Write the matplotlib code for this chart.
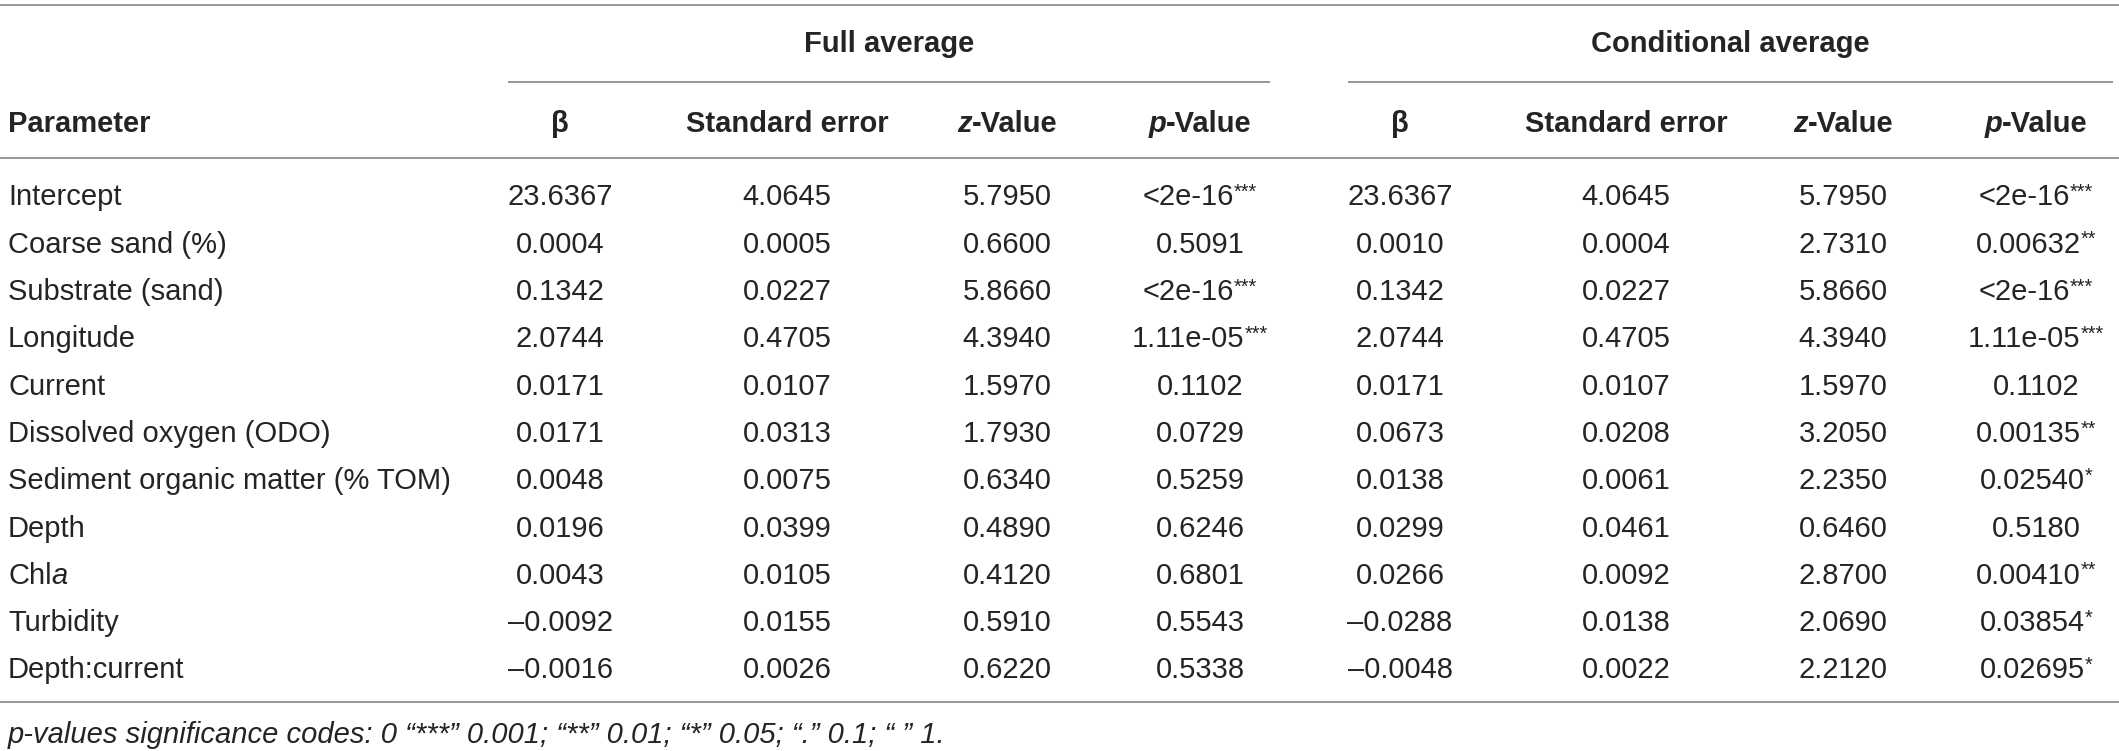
import matplotlib
matplotlib.use("Agg")
import matplotlib.pyplot as plt
from matplotlib.lines import Line2D

# ---------------- data ----------------
parameters = ["Intercept", "Coarse sand (%)", "Substrate (sand)", "Longitude", "Current",
              "Dissolved oxygen (ODO)", "Sediment organic matter (% TOM)", "Depth",
              "Chla", "Turbidity", "Depth:current"]

full_beta = ["23.6367", "0.0004", "0.1342", "2.0744", "0.0171", "0.0171", "0.0048",
             "0.0196", "0.0043", "\u20130.0092", "\u20130.0016"]
full_se = ["4.0645", "0.0005", "0.0227", "0.4705", "0.0107", "0.0313", "0.0075",
           "0.0399", "0.0105", "0.0155", "0.0026"]
full_z = ["5.7950", "0.6600", "5.8660", "4.3940", "1.5970", "1.7930", "0.6340",
          "0.4890", "0.4120", "0.5910", "0.6220"]
full_p = ["<2e-16", "0.5091", "<2e-16", "1.11e-05", "0.1102", "0.0729", "0.5259",
          "0.6246", "0.6801", "0.5543", "0.5338"]
full_sig = ["***", "", "***", "***", "", "", "", "", "", "", ""]

cond_beta = ["23.6367", "0.0010", "0.1342", "2.0744", "0.0171", "0.0673", "0.0138",
             "0.0299", "0.0266", "\u20130.0288", "\u20130.0048"]
cond_se = ["4.0645", "0.0004", "0.0227", "0.4705", "0.0107", "0.0208", "0.0061",
           "0.0461", "0.0092", "0.0138", "0.0022"]
cond_z = ["5.7950", "2.7310", "5.8660", "4.3940", "1.5970", "3.2050", "2.2350",
          "0.6460", "2.8700", "2.0690", "2.2120"]
cond_p = ["<2e-16", "0.00632", "<2e-16", "1.11e-05", "0.1102", "0.00135", "0.02540",
          "0.5180", "0.00410", "0.03854", "0.02695"]
cond_sig = ["***", "**", "***", "***", "", "**", "*", "", "**", "*", "*"]

groups = ["Full average", "Conditional average"]
footnote = "p-values significance codes: 0 \u201c***\u201d 0.001; \u201c**\u201d 0.01; \u201c*\u201d 0.05; \u201c.\u201d 0.1; \u201c \u201d 1."

# ---------------- layout ----------------
W, H = 2119, 751
DPI = 100
FONT = "Liberation Sans"
FS = 21
TXT = "#262324"
LINE = "#8f8f8f"

fig = plt.figure(figsize=(W / DPI, H / DPI), dpi=DPI)
ax = fig.add_axes([0, 0, 1, 1])
ax.set_xlim(0, W)
ax.set_ylim(H, 0)
ax.axis("off")
fig.canvas.draw()
renderer = fig.canvas.get_renderer()

CAP = 0.716 * FS * DPI / 72.0  # cap height in px


def measure(s, **kw):
    t = ax.text(0, 0, s, fontsize=kw.get("size", FS), family=FONT,
                style=kw.get("style", "normal"), weight=kw.get("weight", "normal"))
    bb = t.get_window_extent(renderer)
    t.remove()
    return bb.width


def rich(x, yc, segs, ha="center"):
    """segs: list of (text, opts) ; yc = vertical centre of the cap height"""
    widths = [measure(s, **o) for s, o in segs]
    total = sum(widths)
    if ha == "center":
        x0 = x - total / 2
    elif ha == "left":
        x0 = x
    else:
        x0 = x - total
    base = yc + CAP / 2
    for (s, o), w in zip(segs, widths):
        ax.text(x0, base - o.get("rise", 0), s, fontsize=o.get("size", FS), family=FONT,
                style=o.get("style", "normal"), weight=o.get("weight", "normal"),
                color=TXT, ha="left", va="baseline")
        x0 += w


def hline(x0, x1, y):
    ax.add_line(Line2D([x0, x1], [y, y], color=LINE, lw=1.3, solid_capstyle="butt"))


X_LEFT, X_RIGHT = 7, 2113
param_x = 8
col_x = [560, 787, 1007, 1200, 1400, 1626, 1843, 2036]
group_span = [(508, 1270), (1348, 2113)]
Y_TOP, Y_GROUPLINE, Y_HEADLINE, Y_BOTTOM = 5, 82, 158, 702
Y_GROUP, Y_HEAD, Y_FOOT = 42, 122, 733
Y_ROW0, ROW_H = 195, 47.3

# rules
hline(X_LEFT - 7, X_RIGHT + 6, Y_TOP)
for a, b in group_span:
    hline(a, b, Y_GROUPLINE)
hline(X_LEFT - 7, X_RIGHT + 6, Y_HEADLINE)
hline(X_LEFT - 7, X_RIGHT + 6, Y_BOTTOM)

B = {"weight": "bold"}
BI = {"weight": "bold", "style": "italic"}

# group headers
for g, (a, b) in zip(groups, group_span):
    rich((a + b) / 2, Y_GROUP, [(g, B)])

# column headers
rich(param_x, Y_HEAD, [("Parameter", B)], ha="left")
for k in range(2):
    base = 4 * k
    rich(col_x[base + 0], Y_HEAD, [("\u03b2", B)])
    rich(col_x[base + 1], Y_HEAD, [("Standard error", B)])
    rich(col_x[base + 2], Y_HEAD, [("z", BI), ("-Value", B)])
    rich(col_x[base + 3], Y_HEAD, [("p", BI), ("-Value", B)])

# body
SUP = {"size": FS * 0.68, "rise": CAP * 0.36}
cols = [full_beta, full_se, full_z, None, cond_beta, cond_se, cond_z, None]
for i, name in enumerate(parameters):
    y = Y_ROW0 + i * ROW_H
    if name == "Chla":
        rich(param_x, y, [("Chl", {}), ("a", {"style": "italic"})], ha="left")
    else:
        rich(param_x, y, [(name, {})], ha="left")
    for j, arr in enumerate(cols):
        if arr is not None:
            rich(col_x[j], y, [(arr[i], {})])
    for j, (pv, sg) in ((3, (full_p, full_sig)), (7, (cond_p, cond_sig))):
        segs = [(pv[i], {})]
        if sg[i]:
            segs.append((sg[i], SUP))
        rich(col_x[j], y, segs)

# footnote
rich(param_x, Y_FOOT, [(footnote, {"style": "italic"})], ha="left")

fig.savefig("out.png", dpi=DPI, facecolor="white")
